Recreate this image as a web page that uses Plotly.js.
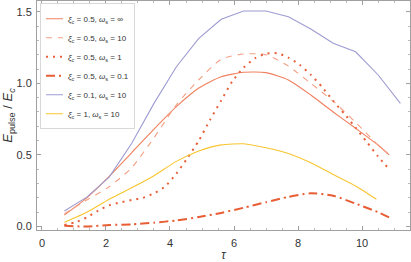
<!DOCTYPE html>
<html>
<head>
<meta charset="utf-8">
<script src="https://cdn.plot.ly/plotly-3.0.1.min.js"></script>
<style>html,body{margin:0;padding:0;background:#fff;}#chart{width:411px;height:262px;}</style>
</head>
<body>
<div id="chart"></div>
<script>
// tau grids
var tauA = [0.7,1.4,2.1,2.8,3.5,4.2,4.9,5.6,6.3,7.0,7.7,8.4,9.1,9.8,10.5,10.85];
var tauFine = [0.7,1.05,1.4,1.75,2.1,2.45,2.8,3.15,3.5,3.85,4.2,4.55,4.9,5.25,5.6,5.95,6.3,6.65,7.0,7.35,7.7,8.05,8.4,8.75,9.1,9.45,9.8,10.15,10.5,10.85];
var tauP = [0.7,1.4,2.1,2.8,3.5,4.2,4.9,5.6,6.3,7.0,7.7,8.4,9.1,9.8,10.5,11.2];
var tauY = [0.7,1.4,2.1,2.8,3.5,4.2,4.9,5.6,6.3,7.0,7.7,8.4,9.1,9.8,10.45];

// series values E_pulse / E_c
var xi05_wInf = [0.08,0.2,0.35,0.515,0.68,0.837,0.967,1.046,1.077,1.075,1.023,0.918,0.80,0.686,0.569,0.50];
var xi05_w10  = [0.09,0.185,0.278,0.41,0.62,0.85,1.025,1.168,1.205,1.2,1.12,1.0,0.875,0.727,0.57,0.5];
var xi05_w1   = [0.01,0.03,0.064,0.11,0.148,0.168,0.185,0.2,0.232,0.28,0.37,0.48,0.6,0.744,0.88,1.015,1.11,1.175,1.207,1.21,1.18,1.13,1.06,0.975,0.877,0.787,0.69,0.59,0.49,0.40];
var xi05_w01  = [0.005,0.0,0.01,0.015,0.027,0.042,0.066,0.095,0.131,0.17,0.207,0.232,0.215,0.16,0.1,0.064];
var xi01_w10  = [0.108,0.205,0.345,0.58,0.86,1.116,1.314,1.447,1.505,1.505,1.465,1.38,1.28,1.22,1.06,0.86];
var xi1_w10   = [0.03,0.1,0.19,0.27,0.355,0.455,0.527,0.57,0.578,0.55,0.51,0.445,0.363,0.283,0.19];

var names = [
  '<i>ξ</i><sub><i>c</i></sub> = 0.5, <i>ω</i><sub>s</sub> = ∞',
  '<i>ξ</i><sub><i>c</i></sub> = 0.5, <i>ω</i><sub>s</sub> = 10',
  '<i>ξ</i><sub><i>c</i></sub> = 0.5, <i>ω</i><sub>s</sub> = 1',
  '<i>ξ</i><sub><i>c</i></sub> = 0.5, <i>ω</i><sub>s</sub> = 0.1',
  '<i>ξ</i><sub><i>c</i></sub> = 0.1, <i>ω</i><sub>s</sub> = 10',
  '<i>ξ</i><sub><i>c</i></sub> = 1, <i>ω</i><sub>s</sub> = 10'
];

var traces = [
  {x: tauA, y: xi05_wInf, name: names[0], line: {color: '#F0805E', width: 1.1, shape: 'spline', smoothing: 0.6}},
  {x: tauA, y: xi05_w10, name: names[1], line: {color: '#F4A084', width: 1.1, dash: '6px,6px', shape: 'spline', smoothing: 0.6}},
  {x: tauFine, y: xi05_w1, name: names[2], line: {color: '#E8603A', width: 2, dash: '2px,5px', shape: 'spline', smoothing: 0.6}},
  {x: tauA, y: xi05_w01, name: names[3], line: {color: '#E85E34', width: 2, dash: '9px,4px,2px,4px', shape: 'spline', smoothing: 0.6}},
  {x: tauP, y: xi01_w10, name: names[4], line: {color: '#9E9CD2', width: 1.1}},
  {x: tauY, y: xi1_w10, name: names[5], line: {color: '#F8C530', width: 1.1, shape: 'spline', smoothing: 0.6}}
];
traces.forEach(function(t){ t.mode = 'lines'; t.type = 'scatter'; });

var axisCommon = {
  showline: true, mirror: 'ticks', linecolor: '#a0a0a0', linewidth: 1,
  ticks: 'inside', ticklen: 4, tickcolor: '#a0a0a0', tickwidth: 1,
  showgrid: false, zeroline: false,
  tickfont: {family: 'Liberation Sans, Arial, sans-serif', size: 11, color: '#333'}
};

var layout = {
  width: 411, height: 262,
  margin: {l: 37, r: 1, t: 1, b: 32},
  paper_bgcolor: '#fff', plot_bgcolor: '#fff',
  showlegend: true,
  legend: {
    x: 0.008, y: 0.99, xanchor: 'left', yanchor: 'top',
    bgcolor: '#fff', bordercolor: '#d8d8d8', borderwidth: 1,
    font: {family: 'Liberation Sans, Arial, sans-serif', size: 8, color: '#333'},
    itemwidth: 30, tracegroupgap: 0
  },
  xaxis: Object.assign({}, axisCommon, {
    range: [-0.156, 11.5], dtick: 2, tick0: 0, ticklabelstandoff: 3,
    minor: {ticks: 'inside', dtick: 0.5, ticklen: 2, tickcolor: '#b8b8b8'},
    title: {text: '<i>τ</i>', font: {family: 'Liberation Sans, Arial, sans-serif', size: 12, color: '#333'}, standoff: 7}
  }),
  yaxis: Object.assign({}, axisCommon, {
    range: [-0.0244, 1.575], dtick: 0.5, tick0: 0, tickformat: '.1f', ticklabelstandoff: 2,
    minor: {ticks: 'inside', dtick: 0.1, ticklen: 2, tickcolor: '#b8b8b8'},
    title: {text: '<i>E</i><sub>pulse</sub> / <i>E</i><sub><i>c</i></sub>', font: {family: 'Liberation Sans, Arial, sans-serif', size: 13, color: '#333'}, standoff: 3}
  })
};

Plotly.newPlot('chart', traces, layout, {staticPlot: true, displayModeBar: false}).then(function(gd){
  // shorten legend line samples like the reference
  var shift = 13;
  gd.querySelectorAll('.legend .legendlines path').forEach(function(p){ p.setAttribute('d', 'M5,0h17'); });
  gd.querySelectorAll('.legend .legendtext').forEach(function(t){
    var x = parseFloat(t.getAttribute('x') || '0');
    t.setAttribute('x', x - shift);
    t.querySelectorAll('tspan[x]').forEach(function(s){
      var sx = parseFloat(s.getAttribute('x'));
      if (!isNaN(sx)) s.setAttribute('x', sx - shift);
    });
  });
  gd.querySelectorAll('.legend rect.bg').forEach(function(r){
    var w = parseFloat(r.getAttribute('width'));
    if (!isNaN(w)) r.setAttribute('width', w - shift);
  });
});
</script>
</body>
</html>
